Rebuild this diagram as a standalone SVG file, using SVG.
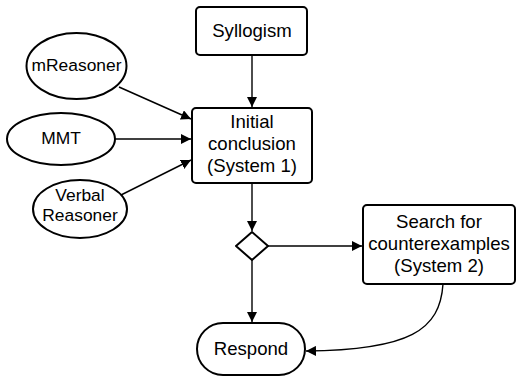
<svg xmlns="http://www.w3.org/2000/svg" width="517" height="379" viewBox="0 0 517 379">
  <defs>
    <marker id="arrow" viewBox="0 0 10 10" refX="10" refY="5" markerWidth="10" markerHeight="10" markerUnits="userSpaceOnUse" orient="auto">
      <path d="M0,0 L10,5 L0,10 z" fill="#000"/>
    </marker>
  </defs>
  <style>
    .shape { fill: #fff; stroke: #000; stroke-width: 2; }
    .label { font-family: "Liberation Sans", Arial, sans-serif; font-size: 18.6px; fill: #000; text-anchor: middle; }
    .small { font-size: 17.4px; }
    .edge { fill: none; stroke: #000; stroke-width: 1.4; marker-end: url(#arrow); }
  </style>
  <rect width="517" height="379" fill="#fff"/>

  <g id="connectors">
    <line class="edge" x1="252" y1="55" x2="252" y2="107"/>
    <line class="edge" x1="119" y1="87" x2="191" y2="119"/>
    <line class="edge" x1="115" y1="139" x2="191" y2="139"/>
    <line class="edge" x1="119" y1="196" x2="191" y2="160"/>
    <line class="edge" x1="252" y1="183" x2="252" y2="231"/>
    <line class="edge" x1="268" y1="246" x2="362" y2="246"/>
    <line class="edge" x1="252" y1="260" x2="252" y2="322"/>
    <path class="edge" d="M443,284 C440,330 410,350 306,351"/>
  </g>

  <g id="syllogism">
    <rect class="shape" x="196" y="7" width="111" height="48" rx="4"/>
    <text class="label" x="252" y="37">Syllogism</text>
  </g>

  <g id="initial-conclusion">
    <rect class="shape" x="192" y="108" width="120" height="75" rx="4"/>
    <text class="label" x="252" y="128">Initial</text>
    <text class="label" x="252" y="150">conclusion</text>
    <text class="label" x="252" y="172">(System 1)</text>
  </g>

  <g id="mreasoner">
    <ellipse class="shape" cx="76.5" cy="66" rx="50" ry="33"/>
    <text class="label small" x="76.5" y="71">mReasoner</text>
  </g>

  <g id="mmt">
    <ellipse class="shape" cx="61" cy="139" rx="54" ry="26"/>
    <text class="label small" x="61" y="144">MMT</text>
  </g>

  <g id="verbal-reasoner">
    <ellipse class="shape" cx="80" cy="209" rx="47" ry="29"/>
    <text class="label small" x="80" y="201">Verbal</text>
    <text class="label small" x="80" y="221">Reasoner</text>
  </g>

  <g id="decision">
    <polygon class="shape" points="252,232 268,246 252,260 236,246" stroke-linejoin="round"/>
  </g>

  <g id="search">
    <rect class="shape" x="363" y="205" width="152" height="79" rx="4"/>
    <text class="label" x="439" y="228">Search for</text>
    <text class="label" x="439" y="250">counterexamples</text>
    <text class="label" x="439" y="272">(System 2)</text>
  </g>

  <g id="respond">
    <rect class="shape" x="197" y="323" width="108" height="52" rx="26"/>
    <text class="label" x="251" y="355">Respond</text>
  </g>
</svg>
